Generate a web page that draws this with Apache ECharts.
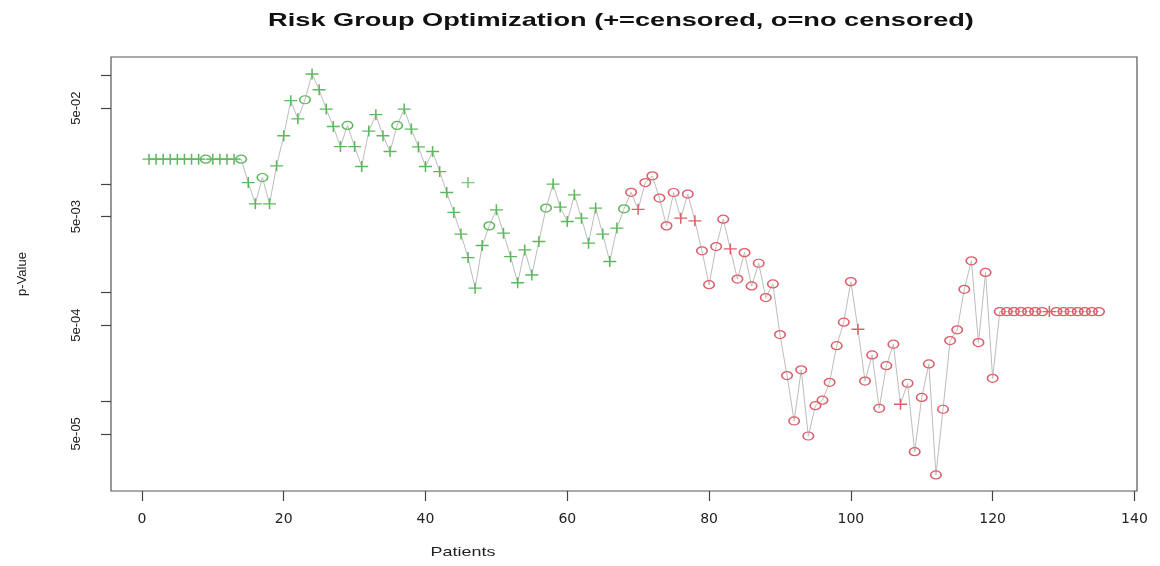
<!DOCTYPE html>
<html>
<head>
<meta charset="utf-8">
<script src="https://cdn.jsdelivr.net/npm/echarts@6/dist/echarts.min.js"></script>
<style>
html,body{margin:0;padding:0;background:#fff;}
#chart{width:1160px;height:566px;}
</style>
</head>
<body>
<div id="chart"></div>
<script>
// ---- data ----
const patients = [
  1,2,3,4,5,6,7,8,9,10, 11,12,13,14,15,16,17,18,19,20,
  21,22,23,24,25,26,27,28,29,30, 31,32,33,34,35,36,37,38,39,40,
  41,42,43,44,45,46,47,48,49,50, 51,52,53,54,55,56,57,58,59,60,
  61,62,63,64,65,66,67,68,69,70, 71,72,73,74,75,76,77,78,79,80,
  81,82,83,84,85,86,87,88,89,90, 91,92,93,94,95,96,97,98,99,100,
  101,102,103,104,105,106,107,108,109,110, 111,112,113,114,115,116,117,118,119,120,
  121,122,123,124,125,126,127,128,129,130, 131,132,133,134,135
];
const pValues = [
  0.0169,0.0169,0.0169,0.0169,0.0169,0.0169,0.0169,0.0169,0.0169,0.0169,
  0.0169,0.0169,0.0169,0.0169,0.0103,0.00656,0.01146,0.00656,0.01469,0.02778,
  0.0584,0.0398,0.0596,0.1029,0.0737,0.0489,0.0338,0.0221,0.0346,0.0221,
  0.01447,0.0307,0.0434,0.02778,0.0199,0.0346,0.0489,0.0320,0.0219,0.01447,
  0.0199,0.0130,0.00834,0.00546,0.00345,0.00210,0.001097,0.00271,0.00411,0.00578,
  0.00352,0.00214,0.00123,0.00247,0.00145,0.00295,0.00599,0.00997,0.00612,0.00451,
  0.00794,0.00484,0.00285,0.00599,0.00345,0.00193,0.00392,0.00590,0.00838,0.00584,
  0.0103,0.01189,0.00741,0.00411,0.00834,0.00484,0.00806,0.00457,0.00242,0.00118,
  0.00265,0.00474,0.00252,0.00133,0.00233,0.00115,0.00186,0.000898,0.00120,0.000410,
  0.000172,6.56e-05,0.000194,4.77e-05,9.08e-05,0.000102,0.000149,0.000324,0.000533,0.00126,
  0.000459,0.000153,0.000266,8.59e-05,0.000212,0.000334,9.35e-05,0.000146,3.42e-05,0.000108,
  0.000220,2.09e-05,8.41e-05,0.000361,0.000453,0.00107,0.00196,0.000346,0.00153,0.000162,
  0.000667,0.000667,0.000667,0.000667,0.000667,0.000667,0.000667,0.000667,0.000667,0.000667,
  0.000667,0.000667,0.000667,0.000667,0.000667
];
// '+' = censored, 'o' = no censored
const markers = (
  '++++++++o+' + '+++o++o+++' + '++o+++++o+' + '+++++o++++' + '++++++++o+' +
  '++++++o+++' + '+++++++oo+' + 'ooooo+o+oo' + 'oo+ooooooo' + 'oooooooooo' +
  '+ooooo+ooo' + 'oooooooooo' + 'ooooooo+oo' + 'ooooo'
).split('');
// risk group of each patient: G = first group (green), R = second group (red)
const groups = (
  'GGGGGGGGGG' + 'GGGGGGGGGG' + 'GGGGGGGGGG' + 'GGGGGGGGGG' + 'GGGGGGGGGG' +
  'GGGGGGGGGG' + 'GGGGGGGGRR' + 'RRRRRRRRRR' + 'RRRRRRRRRR' + 'RRRRRRRRRR' +
  'RRRRRRRRRR' + 'RRRRRRRRRR' + 'RRRRRRRRRR' + 'RRRRR'
).split('');
// a lone censored mark not joined by the line
const extraPoints = [[46, 0.0103]];

const xTicks = [0, 20, 40, 60, 80, 100, 120, 140];
const yTickValues = [5e-5, 1e-4, 5e-4, 1e-3, 5e-3, 1e-2, 5e-2, 1e-1];
const yLabelValues = [5e-5, 5e-4, 5e-3, 5e-2];
const yLabelTexts = ['5e-05', '5e-04', '5e-03', '5e-02'];
const xRange = [-4.36, 140.36];
const yRange = [1.486e-05, 0.1476];

// ---- chart ----
const L = Math.log10;
const GREEN = '#5cb85c';
const RED = '#dc5f6a';
const PLUS = 'path://M0,50L100,50M50,0L50,100';
const RING = 'path://M0,50A50,50 0 1 1 100,50A50,50 0 1 1 0,50Z';

function pick(mk, gr) {
  const out = [];
  patients.forEach((x, i) => {
    if (markers[i] === mk && groups[i] === gr) out.push([x, L(pValues[i])]);
  });
  return out;
}
function markSeries(mk, gr) {
  const col = gr === 'G' ? GREEN : RED;
  return {
    type: 'scatter',
    data: pick(mk, gr),
    symbol: mk === '+' ? PLUS : RING,
    symbolSize: mk === '+' ? [13, 11] : [10.5, 8],
    itemStyle: { color: 'rgba(0,0,0,0)', borderColor: col, borderWidth: 1.4, opacity: 1 },
    emphasis: { disabled: true },
    z: 3
  };
}

const chart = echarts.init(document.getElementById('chart'), null, { renderer: 'canvas' });
chart.setOption({
  animation: false,
  backgroundColor: '#fff',
  grid: { left: 111, right: 23, top: 57, bottom: 75, show: true, borderColor: '#555', borderWidth: 1.2, backgroundColor: 'transparent' },
  xAxis: {
    type: 'value', min: xRange[0], max: xRange[1],
    axisLine: { show: false, onZero: false },
    splitLine: { show: false },
    axisTick: { show: true, length: 10, customValues: xTicks, lineStyle: { color: '#444', width: 1.2 } },
    axisLabel: { customValues: xTicks, margin: 21, fontFamily: 'DejaVu Sans', fontSize: 14, color: '#222' }
  },
  yAxis: {
    type: 'value', min: L(yRange[0]), max: L(yRange[1]),
    name: 'p-Value', nameLocation: 'middle', nameRotate: 90, nameGap: 82,
    nameTextStyle: { fontFamily: 'Liberation Sans', fontSize: 13, color: '#222' },
    axisLine: { show: false, onZero: false },
    splitLine: { show: false },
    axisTick: { show: true, length: 10, customValues: yTickValues.map(L), lineStyle: { color: '#444', width: 1.2 } },
    axisLabel: {
      customValues: yLabelValues.map(L), rotate: 90, margin: 28,
      fontFamily: 'Liberation Sans', fontSize: 13, color: '#222',
      formatter: function (v) {
        for (let i = 0; i < yLabelValues.length; i++) {
          if (Math.abs(L(yLabelValues[i]) - v) < 1e-6) return yLabelTexts[i];
        }
        return '';
      }
    }
  },
  graphic: [
    { type: 'text', x: 621, y: 21, scaleX: 1.43, scaleY: 1, silent: true,
      style: { text: 'Risk Group Optimization (+=censored, o=no censored)', x: 0, y: 0,
               align: 'center', verticalAlign: 'middle', font: 'bold 19px "Liberation Sans"', fill: '#111' } },
    { type: 'text', x: 463, y: 552, scaleX: 1.38, scaleY: 1, silent: true,
      style: { text: 'Patients', x: 0, y: 0, align: 'center', verticalAlign: 'middle',
               font: '13px "Liberation Sans"', fill: '#222' } }
  ],
  series: [
    {
      type: 'line',
      data: patients.map((x, i) => [x, L(pValues[i])]),
      symbol: 'none',
      lineStyle: { color: '#bdbdbd', width: 1 },
      emphasis: { disabled: true },
      z: 2
    },
    markSeries('+', 'G'),
    markSeries('o', 'G'),
    markSeries('+', 'R'),
    markSeries('o', 'R'),
    {
      type: 'scatter',
      data: extraPoints.map(p => [p[0], L(p[1])]),
      symbol: PLUS, symbolSize: [13, 11],
      itemStyle: { color: 'rgba(0,0,0,0)', borderColor: GREEN, borderWidth: 1.4 },
      emphasis: { disabled: true },
      z: 3
    }
  ]
});
</script>
</body>
</html>
